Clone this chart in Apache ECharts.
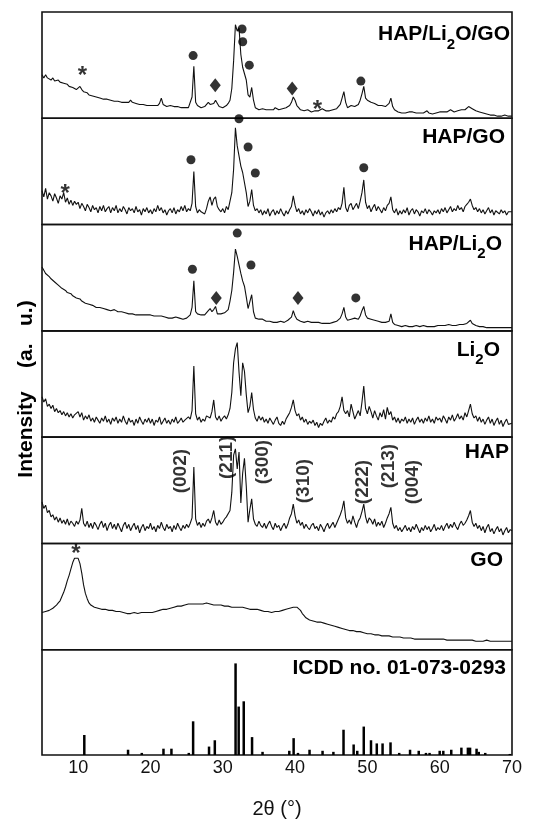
<!DOCTYPE html>
<html>
<head>
<meta charset="utf-8">
<script src="https://cdn.jsdelivr.net/npm/echarts@6/dist/echarts.min.js"></script>
<style>
html, body { margin: 0; padding: 0; background: #fff; }
#chart { width: 543px; height: 820px; }
</style>
</head>
<body>
<div id="chart"></div>
<script>
// scans: 2θ from 5° to 70°, one reading every 0.25°
var thetaStart = 5, thetaStep = 0.25;
var xTicks = [10, 20, 30, 40, 50, 60, 70];

// intensities, each panel scaled 0..100 of its own height (a. u.)
var hapLi2oGo = [
  41,38,41,38,39,36,38,35,36,36,34,35,33,32,32,30,30,29,28,27,   // 5
  27,30,27,25,24,24,22,22,21,21,20,20,19,19,18,19,18,17,17,17,   // 10
  16,16,16,15,15,15,15,14,15,17,15,14,14,14,13,13,13,13,12,13,   // 15
  12,12,12,12,12,14,19,13,12,11,11,12,13,11,11,11,10,10,11,10,   // 20
  10,10,11,20,49,15,12,11,10,10,11,12,15,13,12,14,17,14,11,10,   // 25
  10,11,12,14,17,28,54,88,82,85,60,48,47,36,22,20,29,17,10,9,    // 30
  8,8,9,8,8,9,8,8,8,10,9,8,8,9,9,10,11,12,15,20,                 // 35
  17,12,10,8,7,7,7,8,7,6,6,7,8,7,7,9,8,7,6,7,                    // 40
  7,8,8,9,10,13,19,25,15,10,9,12,13,11,11,13,17,23,30,19,        // 45
  17,16,15,15,14,13,12,13,12,12,11,11,14,19,11,8,7,6,6,5,        // 50
  5,5,6,6,7,6,5,5,5,5,6,5,6,7,5,5,4,4,5,4,                       // 55
  6,5,6,7,6,7,8,7,6,6,7,8,8,7,8,9,11,12,9,8,                     // 60
  7,6,6,5,5,4,4,3,3,3,3,3,2,3,2,2,3,2,2,2,                       // 65
  2
];
var hapGo = [
  32,26,34,24,30,27,22,29,25,20,27,24,30,21,25,19,23,18,22,19,
  21,15,20,17,13,19,16,12,18,14,16,11,17,13,18,12,15,17,11,16,
  13,18,11,15,12,17,14,10,16,13,15,11,17,12,14,9,15,12,16,11,
  14,10,15,12,18,13,16,11,14,9,13,15,11,16,10,14,12,17,13,18,
  12,15,13,20,50,17,11,14,12,13,10,15,22,26,18,24,26,17,14,12,
  15,11,17,14,22,30,52,91,74,75,55,49,50,30,17,22,33,18,13,15,
  11,14,9,13,10,15,8,12,14,9,13,10,15,11,8,13,10,14,17,27,
  18,12,15,10,13,9,14,11,15,12,8,13,10,14,9,12,7,11,13,10,
  14,11,15,12,16,14,20,35,16,12,18,20,14,17,20,15,22,30,42,21,
  15,18,12,16,19,13,17,14,11,16,13,18,20,26,14,11,15,9,13,10,
  14,11,16,9,13,15,10,14,12,8,13,11,15,10,14,12,9,13,11,14,
  10,15,12,16,11,14,17,12,15,13,18,14,16,12,17,19,21,24,18,14,
  16,12,15,11,14,10,13,16,11,14,9,13,12,10,14,11,13,9,12,11,
  12
];
var hapLi2o = [
  60,57,54,53,51,49,48,46,45,43,42,40,39,38,36,35,35,33,32,31,
  30,30,28,27,26,26,25,24,24,23,22,23,22,21,21,21,20,21,19,19,
  20,19,18,18,18,17,17,16,16,17,16,15,15,16,15,15,15,14,15,15,
  15,14,14,15,14,14,14,13,13,13,12,13,12,12,13,12,12,11,11,12,
  12,13,15,22,47,18,16,15,15,16,15,16,19,21,18,20,23,16,15,16,
  17,17,18,20,28,38,55,77,70,62,54,47,42,32,21,20,34,18,12,11,
  11,10,11,10,9,10,9,9,8,9,8,8,9,8,8,9,10,11,13,19,
  14,11,10,9,9,8,8,9,8,8,7,8,7,8,7,7,8,7,8,7,
  8,8,9,9,10,12,16,22,13,10,10,11,12,12,11,11,14,19,23,15,
  12,11,11,10,10,9,9,9,8,8,8,8,9,16,8,6,5,5,5,4,
  4,5,4,4,5,4,4,5,4,4,4,5,4,4,3,4,4,4,4,5,
  5,5,4,5,5,6,5,5,6,5,5,6,5,6,6,7,8,10,7,6,
  5,5,4,4,4,4,3,3,3,3,3,3,3,3,3,3,3,3,3,3,
  3
];
var li2o = [
  38,33,36,29,31,27,30,24,27,23,25,21,24,20,23,19,22,18,21,20,
  24,19,23,16,20,17,21,15,18,14,19,16,13,18,15,20,14,17,12,18,
  15,19,13,17,14,20,15,12,18,14,16,11,17,13,19,15,12,17,14,18,
  13,17,11,16,14,19,12,15,18,13,16,12,17,14,19,13,15,18,14,16,
  15,19,17,25,67,22,16,19,14,17,15,20,21,18,24,35,19,16,20,15,
  18,20,17,21,27,42,70,83,89,61,39,70,62,40,23,29,42,26,18,15,
  20,16,19,14,17,13,18,15,12,16,19,13,11,15,12,17,20,23,28,35,
  25,20,22,16,19,14,17,12,15,13,16,11,14,9,13,11,15,18,13,16,
  14,19,17,22,24,29,38,25,22,25,19,31,24,17,21,25,20,33,48,27,
  22,29,24,18,25,20,16,23,19,26,17,28,21,24,16,19,14,18,13,17,
  15,19,13,17,14,18,12,16,19,14,17,13,18,15,20,14,17,13,19,16,
  18,14,20,17,13,19,16,21,15,18,22,17,20,16,23,19,25,31,22,18,
  20,15,19,14,17,12,16,19,13,17,11,15,18,12,16,10,14,17,12,13,
  13
];
var hap = [
  39,33,36,29,31,25,27,22,25,20,24,19,22,18,23,17,21,19,16,21,
  18,22,33,19,16,21,15,19,14,20,17,13,18,21,15,19,12,17,20,14,
  18,13,19,15,11,17,20,14,18,12,16,19,13,17,10,15,18,12,16,14,
  19,13,16,11,17,14,20,15,12,18,14,16,11,17,13,19,15,12,17,14,
  18,15,19,24,72,23,17,20,15,19,16,21,23,19,24,31,20,17,22,18,
  20,23,25,26,31,48,83,89,70,86,38,66,80,54,20,32,42,23,18,16,
  21,17,15,19,14,18,21,16,13,19,15,17,12,16,19,14,18,24,28,37,
  26,19,22,17,20,14,18,15,13,17,19,14,16,12,18,15,11,16,19,14,
  17,20,15,19,23,27,32,40,24,19,22,18,26,20,15,21,24,30,37,25,
  19,24,22,18,23,16,20,17,21,15,19,24,28,34,19,14,17,12,15,11,
  14,17,12,15,11,16,13,18,14,10,15,12,17,13,16,11,14,18,12,15,
  13,17,12,16,19,14,18,15,20,16,13,18,21,17,19,22,26,31,20,16,
  19,14,17,12,16,10,15,18,11,14,9,13,16,11,14,8,12,15,10,13,
  12
];
var go = [
  35,35,36,36,37,38,39,40,42,44,46,50,54,59,65,70,76,82,86,87,
  86,81,72,61,53,48,44,42,41,40,40,39,39,38,38,38,37,37,36,37,
  36,36,35,36,35,35,35,34,35,34,34,35,34,34,34,35,34,35,35,35,
  35,35,36,36,36,37,37,38,38,38,39,39,40,40,40,41,41,41,42,42,
  42,43,42,43,43,43,44,43,44,43,43,44,43,43,43,42,43,42,42,42,
  42,41,42,41,41,40,41,40,40,40,39,40,39,39,39,38,38,38,37,38,
  37,37,37,36,36,36,36,35,36,36,36,36,37,37,38,38,38,39,39,40,
  40,40,41,37,34,32,30,29,28,28,27,27,26,26,26,25,25,24,24,24,
  23,22,22,21,21,20,20,19,19,19,18,18,18,17,17,17,17,16,16,16,
  15,15,15,15,14,14,14,14,13,13,13,13,13,12,12,12,12,12,12,11,
  11,11,11,11,11,11,10,11,10,10,10,10,10,10,10,10,10,9,10,10,
  10,9,10,9,9,9,9,9,9,9,9,9,9,9,9,9,9,8,9,9,
  8,9,8,8,8,8,9,8,8,8,8,8,8,8,8,8,8,8,8,8,
  8
];

// reference card ICDD 01-073-0293: line positions (2θ) and relative heights
var icddPos = [10.85,16.9,18.8,21.8,22.9,25.3,25.9,28.1,28.9,31.77,32.2,32.9,34.05,35.5,39.2,39.8,40.4,42.0,43.8,45.3,
  46.7,48.1,48.6,49.5,50.5,51.3,52.1,53.2,54.4,55.9,57.1,58.1,58.6,60.0,60.5,61.6,63.0,63.9,64.2,65.1,65.4,66.3,69.7];
var icddInt = [19,5,2,6,6,2,32,8,14,87,46,51,17,3,4,16,2,5,4,3,
  24,10,4,27,14,11,11,12,2,5,4,2,2,4,4,5,7,7,7,6,3,2,1];

// phase markers [2θ, height in panel units]
var dots = [
  [[25.9,59],[32.67,84],[32.76,72],[33.67,50],[49.1,35]],
  [[32.24,99.6],[25.6,61],[33.5,73],[34.5,48.5],[49.5,53.5]],
  [[25.8,58],[32.0,92],[33.9,62],[48.4,31]]
];
var diamonds = [
  [[28.96,31],[39.6,28]],
  [],
  [[29.1,31],[40.4,31]]
];
var stars = [
  [[10.6,45],[43.1,13]],
  [[8.2,34]],
  [], [], [],
  [[9.7,95.4]]
];

// Miller indices written on the HAP scan
var hklText = ['(002)','(211)','(300)','(310)','(222)','(213)','(004)'];
var hklPos = [[24.25,68],[30.5,81],[35.6,76.6],[41.2,58.7],[49.4,57.8],[52.9,72.8],[56.3,57.8]];

var panelNames = [
  '{a|HAP/Li}{s|2}{a|O/GO}',
  '{a|HAP/GO}',
  '{a|HAP/Li}{s|2}{a|O}',
  '{a|Li}{s|2}{a|O}',
  '{a|HAP}',
  '{a|GO}',
  '{a|ICDD no. 01-073-0293}'
];

var chart = echarts.init(document.getElementById('chart'), null, { renderer: 'canvas' });

var LEFT = 42, WIDTH = 470, TOP = 12, PANEL_H = 744 / 7;
var FONT = 'Liberation Sans, Arial, Helvetica, sans-serif';
var scans = [hapLi2oGo, hapGo, hapLi2o, li2o, hap, go];
var nameRight = [510, 505, 502, 500, 509, 503, 506];
var nameDrop = [12, 8, 9, 9, 5, 6, 8];

function toPairs(vals) {
    return vals.map(function (v, i) { return [thetaStart + i * thetaStep, v]; });
}

var grids = [], xAxes = [], yAxes = [], series = [], graphics = [];

for (var p = 0; p < 7; p++) {
    var last = p === 6;
    grids.push({
        left: LEFT, width: WIDTH, top: TOP + p * PANEL_H, height: PANEL_H,
        show: true, borderColor: '#111', borderWidth: 1.6, backgroundColor: 'transparent'
    });
    xAxes.push({
        gridIndex: p, type: 'value', min: 5, max: 70,
        axisLine: { show: false }, axisTick: { show: false }, splitLine: { show: false },
        axisLabel: {
            show: last, customValues: xTicks, fontSize: 18, color: '#111',
            fontFamily: FONT, margin: 4
        },
        name: last ? '2θ (°)' : '', nameLocation: 'middle', nameGap: 44,
        nameTextStyle: { fontSize: 20, color: '#111', fontFamily: FONT }
    });
    yAxes.push({ gridIndex: p, type: 'value', min: 0, max: 100, show: false });

    graphics.push({
        type: 'text', x: nameRight[p], y: TOP + p * PANEL_H + nameDrop[p],
        style: {
            text: panelNames[p], align: 'right', verticalAlign: 'top', fill: '#000',
            rich: {
                a: { fontSize: 21, fontWeight: 'bold', fontFamily: FONT, lineHeight: 22, verticalAlign: 'top', fill: '#000' },
                s: { fontSize: 15, fontWeight: 'bold', fontFamily: FONT, lineHeight: 15, padding: [13, 0, 0, 0], verticalAlign: 'top', fill: '#000' }
            }
        }
    });
}

// the six measured patterns
scans.forEach(function (vals, p) {
    series.push({
        type: 'line', xAxisIndex: p, yAxisIndex: p, data: toPairs(vals),
        showSymbol: false, lineStyle: { color: '#111', width: 1.1 }, silent: true
    });
});

// reference stick pattern
series.push({
    type: 'bar', xAxisIndex: 6, yAxisIndex: 6, barWidth: 2.5,
    data: icddPos.map(function (x, i) { return [x, icddInt[i]]; }),
    itemStyle: { color: '#000' }, silent: true
});

// markers
dots.forEach(function (pts, p) {
    if (!pts.length) return;
    series.push({
        type: 'scatter', xAxisIndex: p, yAxisIndex: p, data: pts, clip: false,
        symbol: 'circle', symbolSize: 9, itemStyle: { color: '#000' }, z: 5
    });
});
diamonds.forEach(function (pts, p) {
    if (!pts.length) return;
    series.push({
        type: 'scatter', xAxisIndex: p, yAxisIndex: p, data: pts, clip: false,
        symbol: 'diamond', symbolSize: [11, 14], itemStyle: { color: '#000' }, z: 5
    });
});
stars.forEach(function (pts, p) {
    if (!pts.length) return;
    series.push({
        type: 'scatter', xAxisIndex: p, yAxisIndex: p, data: pts, clip: false,
        symbolSize: 1, itemStyle: { color: 'transparent' }, z: 5,
        label: {
            show: true, position: 'inside', formatter: '*', offset: [0, 6],
            fontSize: 24, fontWeight: 'bold', fontFamily: FONT, color: '#000'
        }
    });
});

// hkl labels on HAP
series.push({
    type: 'scatter', xAxisIndex: 4, yAxisIndex: 4, clip: false,
    data: hklPos.map(function (d, i) { return { value: d, name: hklText[i] }; }),
    symbolSize: 1, itemStyle: { color: 'transparent' }, z: 6,
    label: {
        show: true, position: 'inside', rotate: 90, formatter: '{b}',
        fontSize: 19, fontWeight: 'bold', fontFamily: FONT, color: '#000',
        align: 'center', verticalAlign: 'middle'
    }
});

// y axis title, rotated
graphics.push({
    type: 'text', x: 26, y: 389, rotation: Math.PI / 2,
    style: {
        text: 'Intensity    (a.   u.)', align: 'center', verticalAlign: 'middle',
        fontSize: 21, fontWeight: 'bold', fontFamily: FONT, fill: '#000'
    }
});

chart.setOption({
    animation: false,
    backgroundColor: '#fff',
    grid: grids,
    xAxis: xAxes,
    yAxis: yAxes,
    series: series,
    graphic: graphics
});
</script>
</body>
</html>
